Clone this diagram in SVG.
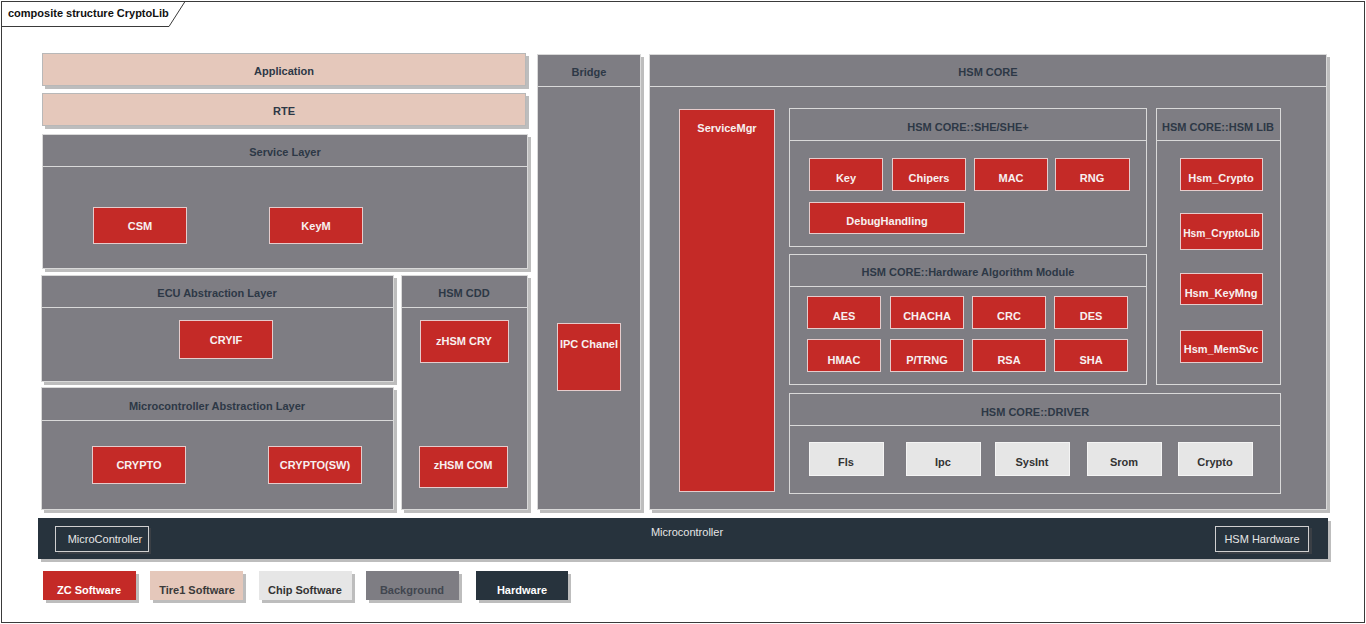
<svg xmlns="http://www.w3.org/2000/svg" width="1366" height="624" viewBox="0 0 1366 624">
<style>
text{font-family:"Liberation Sans",Arial,sans-serif;font-size:11px;font-weight:bold;text-anchor:middle}
.bg{fill:#7e7d83;stroke:#d9d9d9;stroke-width:1}
.in{fill:none;stroke:#d9d9d9;stroke-width:1}
.red{fill:#c42a27;stroke:#e6cccc;stroke-width:1}
.sal{fill:#e5c8bb;stroke:#b8b8b8;stroke-width:1}
.chip{fill:#e6e6e6;stroke:#f4f4f4;stroke-width:1}
.hw{fill:#27333d}
.sh{fill:#bdbdbd}
.ln{stroke:#d9d9d9;stroke-width:1}
.h{fill:#2d3846}
.w{fill:#f7f0f0}
.d{fill:#333333}
.lt{fill:#e6e6e6;font-weight:normal}
</style>
<rect x="0" y="0" width="1366" height="624" fill="#ffffff"/>
<g id="frame">
<rect x="1.5" y="1.5" width="1363" height="621" fill="none" stroke="#3a3a3a" stroke-width="1"/>
<path d="M1.5,26.5 H169 L185,1.5" fill="none" stroke="#3a3a3a" stroke-width="1"/>
<text x="8" y="17" style="text-anchor:start" fill="#111">composite structure CryptoLib</text>
</g>

<g id="application">
<rect class="sh" x="45" y="56" width="484" height="33"/>
<rect class="sal" x="42.5" y="53.5" width="483" height="32"/>
<text x="284" y="75" class="h">Application</text>
</g>
<g id="rte">
<rect class="sh" x="45" y="96" width="484" height="33"/>
<rect class="sal" x="42.5" y="93.5" width="483" height="32"/>
<text x="284" y="115" class="h">RTE</text>
</g>

<g id="service-layer">
<rect class="sh" x="45" y="137" width="486" height="135"/>
<rect class="bg" x="42.5" y="134.5" width="485" height="134"/>
<line class="ln" x1="42.5" y1="166.5" x2="527.5" y2="166.5"/>
<text x="285" y="156" class="h">Service Layer</text>
<g id="csm"><rect class="red" x="93.5" y="207.5" width="93" height="36"/><text x="140" y="230" class="w">CSM</text></g>
<g id="keym"><rect class="red" x="269.5" y="207.5" width="93" height="36"/><text x="316" y="230" class="w">KeyM</text></g>
</g>

<g id="ecu-abstraction-layer">
<rect class="sh" x="44" y="278" width="353" height="107"/>
<rect class="bg" x="41.5" y="275.5" width="352" height="106"/>
<line class="ln" x1="41.5" y1="307.5" x2="393.5" y2="307.5"/>
<text x="217" y="297" class="h">ECU Abstraction Layer</text>
<g id="cryif"><rect class="red" x="179.5" y="320.5" width="93" height="38"/><text x="226" y="344" class="w">CRYIF</text></g>
</g>

<g id="mcal">
<rect class="sh" x="44" y="390" width="353" height="123"/>
<rect class="bg" x="41.5" y="387.5" width="352" height="122"/>
<line class="ln" x1="41.5" y1="420.5" x2="393.5" y2="420.5"/>
<text x="217" y="410" class="h">Microcontroller Abstraction Layer</text>
<g id="crypto"><rect class="red" x="92.5" y="446.5" width="93" height="37"/><text x="139" y="469" class="w">CRYPTO</text></g>
<g id="crypto-sw"><rect class="red" x="268.5" y="446.5" width="93" height="37"/><text x="315" y="469" class="w">CRYPTO(SW)</text></g>
</g>

<g id="hsm-cdd">
<rect class="sh" x="404" y="278" width="127" height="235"/>
<rect class="bg" x="401.5" y="275.5" width="126" height="234"/>
<line class="ln" x1="401.5" y1="307.5" x2="527.5" y2="307.5"/>
<text x="464" y="297" class="h">HSM CDD</text>
<g id="zhsm-cry"><rect class="red" x="420.5" y="320.5" width="88" height="42"/><text x="464" y="345" class="w">zHSM CRY</text></g>
<g id="zhsm-com"><rect class="red" x="419.5" y="446.5" width="88" height="41"/><text x="463" y="469" class="w">zHSM COM</text></g>
</g>

<g id="bridge">
<rect class="sh" x="540" y="57" width="104" height="456"/>
<rect class="bg" x="537.5" y="54.5" width="103" height="455"/>
<line class="ln" x1="537.5" y1="86.5" x2="640.5" y2="86.5"/>
<text x="589" y="76" class="h">Bridge</text>
<g id="ipc-chanel"><rect class="red" x="557.5" y="323.5" width="63" height="67"/><text x="589" y="348" class="w">IPC Chanel</text></g>
</g>

<g id="hsm-core">
<rect class="sh" x="652" y="57" width="678" height="456"/>
<rect class="bg" x="649.5" y="54.5" width="677" height="455"/>
<line class="ln" x1="649.5" y1="86.5" x2="1326.5" y2="86.5"/>
<text x="988" y="76" class="h">HSM CORE</text>
<g id="servicemgr"><rect class="red" x="679.5" y="109.5" width="95" height="382"/><text x="727" y="132" class="w">ServiceMgr</text></g>

<g id="she">
<rect class="in" x="789.5" y="108.5" width="357" height="138"/>
<line class="ln" x1="789.5" y1="140.5" x2="1146.5" y2="140.5"/>
<text x="968" y="131" class="h">HSM CORE::SHE/SHE+</text>
<g id="key"><rect class="red" x="809.5" y="158.5" width="73" height="32"/><text x="846" y="182" class="w">Key</text></g>
<g id="chipers"><rect class="red" x="892.5" y="158.5" width="73" height="32"/><text x="929" y="182" class="w">Chipers</text></g>
<g id="mac"><rect class="red" x="974.5" y="158.5" width="73" height="32"/><text x="1011" y="182" class="w">MAC</text></g>
<g id="rng"><rect class="red" x="1055.5" y="158.5" width="74" height="32"/><text x="1092" y="182" class="w">RNG</text></g>
<g id="debughandling"><rect class="red" x="809.5" y="202.5" width="155" height="31"/><text x="887" y="225" class="w">DebugHandling</text></g>
</g>

<g id="hw-algo">
<rect class="in" x="789.5" y="254.5" width="357" height="130"/>
<line class="ln" x1="789.5" y1="286.5" x2="1146.5" y2="286.5"/>
<text x="968" y="276" class="h">HSM CORE::Hardware Algorithm Module</text>
<g id="aes"><rect class="red" x="807.5" y="296.5" width="73" height="32"/><text x="844" y="320" class="w">AES</text></g>
<g id="chacha"><rect class="red" x="890.5" y="296.5" width="73" height="32"/><text x="927" y="320" class="w">CHACHA</text></g>
<g id="crc"><rect class="red" x="972.5" y="296.5" width="73" height="32"/><text x="1009" y="320" class="w">CRC</text></g>
<g id="des"><rect class="red" x="1054.5" y="296.5" width="73" height="32"/><text x="1091" y="320" class="w">DES</text></g>
<g id="hmac"><rect class="red" x="807.5" y="339.5" width="73" height="32"/><text x="844" y="364" class="w">HMAC</text></g>
<g id="ptrng"><rect class="red" x="890.5" y="339.5" width="73" height="32"/><text x="927" y="364" class="w">P/TRNG</text></g>
<g id="rsa"><rect class="red" x="972.5" y="339.5" width="73" height="32"/><text x="1009" y="364" class="w">RSA</text></g>
<g id="sha"><rect class="red" x="1054.5" y="339.5" width="73" height="32"/><text x="1091" y="364" class="w">SHA</text></g>
</g>

<g id="hsm-lib">
<rect class="in" x="1156.5" y="108.5" width="124" height="276"/>
<line class="ln" x1="1156.5" y1="140.5" x2="1280.5" y2="140.5"/>
<text x="1218" y="131" class="h">HSM CORE::HSM LIB</text>
<g id="hsm-crypto"><rect class="red" x="1180.5" y="158.5" width="82" height="32"/><text x="1221" y="182" class="w">Hsm_Crypto</text></g>
<g id="hsm-cryptolib"><rect class="red" x="1180.5" y="213.5" width="82" height="36"/><text x="1221.5" y="237" class="w" style="font-size:10.3px">Hsm_CryptoLib</text></g>
<g id="hsm-keymng"><rect class="red" x="1180.5" y="273.5" width="82" height="31"/><text x="1221" y="297" class="w">Hsm_KeyMng</text></g>
<g id="hsm-memsvc"><rect class="red" x="1180.5" y="330.5" width="82" height="32"/><text x="1221" y="353" class="w">Hsm_MemSvc</text></g>
</g>

<g id="driver">
<rect class="in" x="789.5" y="393.5" width="491" height="100"/>
<line class="ln" x1="789.5" y1="425.5" x2="1280.5" y2="425.5"/>
<text x="1035" y="416" class="h">HSM CORE::DRIVER</text>
<g id="fls"><rect class="chip" x="809.5" y="442.5" width="74" height="33"/><text x="846" y="466" class="d">Fls</text></g>
<g id="ipc"><rect class="chip" x="906.5" y="442.5" width="74" height="33"/><text x="943" y="466" class="d">Ipc</text></g>
<g id="sysint"><rect class="chip" x="995.5" y="442.5" width="74" height="33"/><text x="1032" y="466" class="d">SysInt</text></g>
<g id="srom"><rect class="chip" x="1087.5" y="442.5" width="74" height="33"/><text x="1124" y="466" class="d">Srom</text></g>
<g id="crypto-drv"><rect class="chip" x="1178.5" y="442.5" width="74" height="33"/><text x="1215" y="466" class="d">Crypto</text></g>
</g>
</g>

<g id="microcontroller">
<rect class="sh" x="41" y="521" width="1290" height="41"/>
<rect class="hw" x="38" y="518" width="1290" height="41"/>
<text x="687" y="536" class="lt">Microcontroller</text>
<g id="microcontroller-box">
<rect x="58" y="528" width="93" height="26" fill="#3a3f45"/>
<rect x="55.5" y="526.5" width="93" height="25" fill="#27333d" stroke="#d0d0d0" stroke-width="1"/>
<text x="105" y="543" class="lt">MicroController</text>
</g>
<g id="hsm-hardware">
<rect x="1218" y="528" width="94" height="26" fill="#3a3f45"/>
<rect x="1215.5" y="526.5" width="93" height="25" fill="#27333d" stroke="#d0d0d0" stroke-width="1"/>
<text x="1262" y="543" class="lt">HSM Hardware</text>
</g>
</g>

<g id="legend">
<g id="legend-zc"><rect class="sh" x="46" y="574" width="93" height="29"/><rect x="43" y="571" width="93" height="29" fill="#c42a27"/><text x="89" y="594" fill="#ffffff">ZC Software</text></g>
<g id="legend-tire1"><rect class="sh" x="153" y="574" width="93" height="29"/><rect x="150" y="571" width="93" height="29" fill="#e5c8bb"/><text x="197" y="594" fill="#3a3a3a">Tire1 Software</text></g>
<g id="legend-chip"><rect class="sh" x="262" y="574" width="93" height="29"/><rect x="259" y="571" width="93" height="29" fill="#e6e6e6"/><text x="305" y="594" fill="#333333">Chip Software</text></g>
<g id="legend-bg"><rect class="sh" x="369" y="574" width="93" height="29"/><rect x="366" y="571" width="93" height="29" fill="#7e7d83"/><text x="412" y="594" fill="#41464f">Background</text></g>
<g id="legend-hw"><rect class="sh" x="479" y="574" width="92" height="29"/><rect x="476" y="571" width="92" height="29" fill="#27333d"/><text x="522" y="594" fill="#ffffff">Hardware</text></g>
</g>
<g id="connectors"/>
</svg>
